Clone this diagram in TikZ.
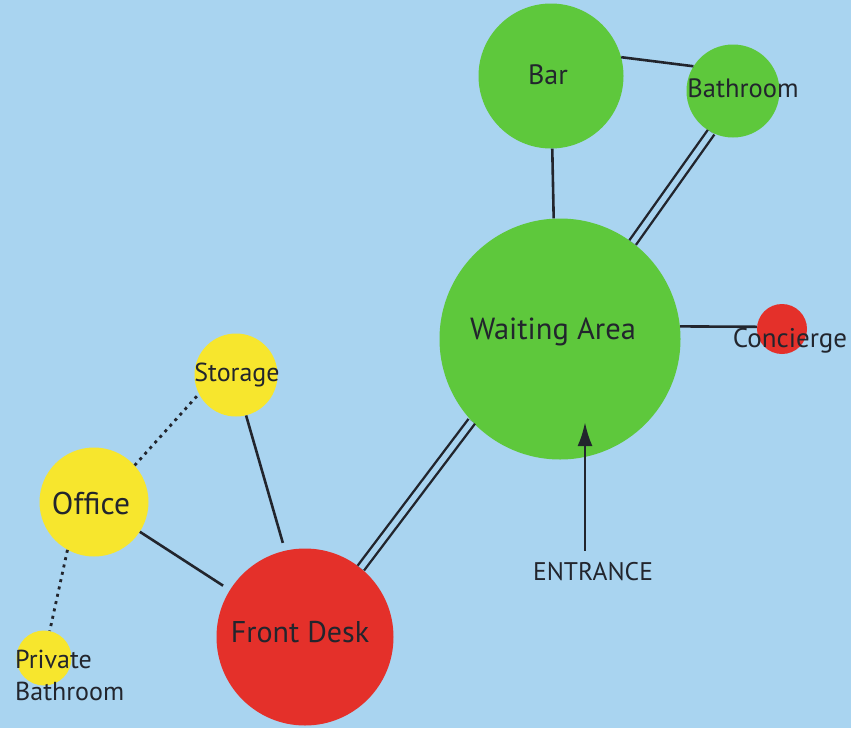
\documentclass[tikz,border=0pt]{standalone}
\usepackage{fontspec}
\setmainfont{PT Sans}
\usetikzlibrary{arrows.meta}
\definecolor{bgblue}{HTML}{A9D4F0}
\definecolor{roomgreen}{HTML}{5EC83C}
\definecolor{roomred}{HTML}{E4302A}
\definecolor{roomyellow}{HTML}{F7E62D}
\definecolor{ink}{HTML}{22252D}
\tikzset{
  room/.style={circle, inner sep=0pt, draw=none, minimum size=#1},
  green/.style={fill=roomgreen},
  red/.style={fill=roomred},
  yellow/.style={fill=roomyellow},
  lbl/.style={inner sep=0pt, text=ink},
  link/.style={draw=ink, line width=2.6pt},
  dbl/.style={draw=ink, line width=2.4pt, double=bgblue, double distance=5.5pt},
  dotlink/.style={draw=ink, line width=2.8pt, dash pattern=on 3pt off 4.5pt},
  entryarrow/.style={draw=ink, line width=2.8pt, -{Latex[length=24pt,width=15pt]}}
}
\begin{document}
\begin{tikzpicture}[x=1pt, y=-1pt]
\fill[bgblue] (0,0) rectangle (851,728);
\useasboundingbox (0,0) rectangle (851,728);
% rooms
\node[room=145pt, green] (bar) at (551,76) {};
\node[room=93pt, green] (bath) at (733,91) {};
\node[room=241pt, green] (wait) at (560,339) {};
\node[room=50pt, red] (conc) at (782,329) {};
\node[room=83pt, yellow] (stor) at (236,375) {};
\node[room=109pt, yellow] (office) at (94,502) {};
\node[room=55pt, yellow] (pbath) at (44,658) {};
\node[room=177pt, red] (desk) at (305,637) {};
% labels
\node[lbl, font=\fontsize{28}{32}\selectfont] (barT) at (548,75) {Bar};
\node[lbl, font=\fontsize{26.5}{30}\selectfont] (bathT) at (743,88) {Bathroom};
\node[lbl, font=\fontsize{30.5}{34}\selectfont] (waitT) at (553,332) {Waiting Area};
\node[lbl, font=\fontsize{27}{31}\selectfont] (concT) at (790,341) {Concierge};
\node[lbl, font=\fontsize{26}{30}\selectfont] (storT) at (237,375) {Storage};
\node[lbl, font=\fontsize{31.5}{36}\selectfont] (officeT) at (91,503) {Office};
\node[lbl, font=\fontsize{30}{34}\selectfont] (deskT) at (300,632) {Front Desk};
\node[lbl, font=\fontsize{26}{32}\selectfont, align=left, anchor=west] (pbathT) at (15,675) {Private\\Bathroom};
\node[lbl, font=\fontsize{25.5}{29}\selectfont] (entT) at (593,572) {ENTRANCE};
\coordinate (entrytip) at (585,422);
% connectors
\draw[link] (bar.15) -- (bath.148);
\draw[link] (bar.-89) -- (wait.93);
\draw[dbl] (bath.242) -- (wait.53);
\draw[link] (wait.6) -- (conc.175);
\draw[dbl] (desk.51.6) -- (wait.223.6);
\draw[link, shorten >=8pt] (stor.284) -- (desk.103);
\draw[link, shorten >=8pt] (office.327) -- (desk.148);
\draw[dotlink] (office.42) -- (stor.207);
\draw[dotlink] (office.241) -- (pbath.78);
\draw[entryarrow] (entrytip |- entT.north) ++(0,-12) -- (entrytip);
\end{tikzpicture}
\end{document}
